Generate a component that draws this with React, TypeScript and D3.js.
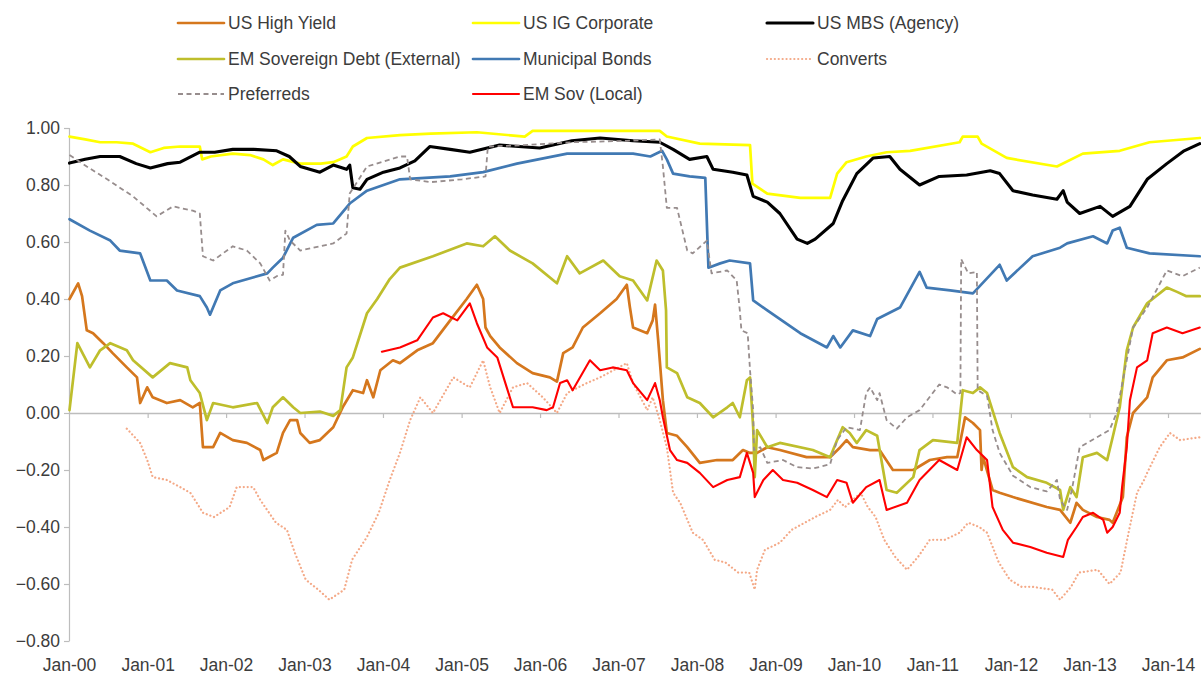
import React from "react";
import * as d3 from "d3";

// [years since Jan-2000, correlation]
const usHighYield: [number, number][] = [[0.00,0.40],[0.11,0.455],[0.16,0.41],[0.22,0.29],[0.30,0.28],[0.43,0.245],[0.55,0.21],[0.73,0.16],[0.86,0.125],[0.90,0.035],[0.99,0.09],[1.06,0.055],[1.24,0.035],[1.41,0.045],[1.57,0.02],[1.66,0.035],[1.70,-0.12],[1.83,-0.12],[1.92,-0.07],[2.08,-0.095],[2.26,-0.105],[2.43,-0.13],[2.47,-0.165],[2.64,-0.14],[2.72,-0.07],[2.81,-0.025],[2.90,-0.025],[2.94,-0.07],[3.06,-0.105],[3.19,-0.095],[3.36,-0.05],[3.48,0.02],[3.61,0.08],[3.74,0.07],[3.79,0.115],[3.87,0.055],[3.96,0.15],[4.12,0.185],[4.21,0.175],[4.43,0.22],[4.63,0.245],[4.85,0.325],[5.06,0.40],[5.19,0.45],[5.27,0.40],[5.30,0.30],[5.36,0.27],[5.48,0.23],[5.70,0.175],[5.90,0.14],[6.12,0.125],[6.21,0.11],[6.29,0.21],[6.41,0.23],[6.54,0.30],[6.76,0.35],[6.97,0.40],[7.10,0.45],[7.14,0.37],[7.18,0.30],[7.36,0.28],[7.43,0.325],[7.46,0.38],[7.50,0.255],[7.56,0.045],[7.61,-0.07],[7.74,-0.08],[7.87,-0.12],[8.03,-0.175],[8.25,-0.165],[8.45,-0.165],[8.58,-0.13],[8.67,-0.14],[8.76,-0.14],[8.89,-0.12],[9.05,-0.13],[9.39,-0.155],[9.69,-0.155],[9.82,-0.12],[9.90,-0.095],[9.98,-0.12],[10.20,-0.13],[10.32,-0.13],[10.49,-0.20],[10.75,-0.20],[10.96,-0.165],[11.18,-0.155],[11.31,-0.155],[11.41,-0.015],[11.51,-0.035],[11.60,-0.06],[11.62,-0.20],[11.64,-0.155],[11.76,-0.27],[11.85,-0.28],[12.02,-0.295],[12.45,-0.33],[12.62,-0.34],[12.75,-0.385],[12.83,-0.315],[12.91,-0.34],[13.09,-0.365],[13.25,-0.375],[13.29,-0.385],[13.42,-0.295],[13.47,-0.085],[13.55,0.0],[13.73,0.055],[13.80,0.125],[13.98,0.185],[14.18,0.195],[14.40,0.225]];

const usIGCorporate: [number, number][] = [[0.00,0.97],[0.20,0.96],[0.39,0.95],[0.60,0.95],[0.81,0.945],[1.03,0.915],[1.20,0.93],[1.41,0.935],[1.66,0.935],[1.69,0.89],[1.80,0.90],[2.08,0.91],[2.30,0.905],[2.47,0.89],[2.59,0.87],[2.72,0.89],[2.94,0.875],[3.20,0.875],[3.36,0.88],[3.53,0.90],[3.61,0.935],[3.79,0.965],[4.21,0.975],[4.60,0.98],[5.19,0.985],[5.80,0.97],[5.90,0.99],[6.50,0.99],[7.52,0.99],[7.61,0.97],[8.03,0.945],[8.67,0.94],[8.70,0.805],[8.89,0.77],[9.31,0.755],[9.69,0.755],[9.78,0.84],[9.90,0.88],[10.15,0.90],[10.41,0.915],[10.71,0.92],[11.34,0.95],[11.38,0.97],[11.57,0.97],[11.62,0.945],[11.94,0.895],[12.58,0.865],[12.91,0.91],[13.38,0.92],[13.76,0.95],[14.40,0.965]];

const usMBSAgency: [number, number][] = [[0.00,0.877],[0.20,0.89],[0.39,0.90],[0.64,0.90],[0.85,0.875],[1.03,0.86],[1.25,0.875],[1.41,0.88],[1.66,0.915],[1.85,0.915],[2.08,0.925],[2.35,0.925],[2.64,0.92],[2.80,0.90],[2.94,0.865],[3.19,0.845],[3.36,0.87],[3.53,0.855],[3.57,0.87],[3.61,0.79],[3.70,0.785],[3.79,0.82],[4.00,0.845],[4.21,0.86],[4.40,0.885],[4.59,0.935],[4.85,0.925],[5.10,0.915],[5.48,0.94],[5.99,0.93],[6.40,0.955],[6.76,0.965],[7.18,0.955],[7.52,0.95],[7.69,0.925],[7.90,0.89],[8.12,0.90],[8.20,0.855],[8.45,0.845],[8.63,0.835],[8.71,0.76],[8.89,0.74],[9.05,0.70],[9.27,0.61],[9.40,0.595],[9.50,0.61],[9.73,0.665],[9.85,0.745],[10.03,0.84],[10.24,0.895],[10.45,0.90],[10.58,0.855],[10.83,0.80],[11.08,0.83],[11.43,0.835],[11.73,0.85],[11.85,0.84],[12.02,0.78],[12.27,0.765],[12.58,0.75],[12.66,0.78],[12.71,0.74],[12.87,0.70],[13.13,0.725],[13.29,0.69],[13.51,0.725],[13.73,0.82],[13.98,0.875],[14.20,0.92],[14.40,0.945]];

const emSovExternal: [number, number][] = [[0.00,0.01],[0.10,0.245],[0.26,0.16],[0.39,0.22],[0.52,0.245],[0.73,0.22],[0.81,0.185],[1.06,0.125],[1.28,0.175],[1.50,0.16],[1.54,0.115],[1.66,0.07],[1.75,-0.025],[1.83,0.035],[2.08,0.02],[2.39,0.035],[2.52,-0.035],[2.59,0.02],[2.72,0.055],[2.85,0.02],[2.94,0.0],[3.19,0.005],[3.36,-0.01],[3.45,0.01],[3.53,0.16],[3.61,0.195],[3.79,0.35],[3.92,0.40],[4.08,0.47],[4.21,0.51],[4.63,0.55],[5.06,0.595],[5.27,0.585],[5.42,0.62],[5.61,0.57],[5.90,0.525],[6.21,0.455],[6.34,0.55],[6.50,0.49],[6.80,0.535],[7.01,0.48],[7.18,0.465],[7.36,0.395],[7.48,0.535],[7.56,0.50],[7.60,0.36],[7.61,0.16],[7.74,0.14],[7.87,0.055],[8.03,0.035],[8.20,-0.015],[8.38,0.02],[8.45,0.035],[8.54,-0.015],[8.63,0.115],[8.67,0.125],[8.71,-0.05],[8.73,-0.225],[8.76,-0.06],[8.89,-0.12],[9.05,-0.105],[9.47,-0.13],[9.69,-0.155],[9.78,-0.095],[9.85,-0.05],[9.94,-0.07],[10.03,-0.105],[10.15,-0.06],[10.29,-0.08],[10.41,-0.27],[10.54,-0.28],[10.75,-0.225],[10.83,-0.13],[11.00,-0.095],[11.31,-0.105],[11.38,0.08],[11.51,0.07],[11.60,0.09],[11.69,0.07],[11.85,-0.07],[12.02,-0.19],[12.20,-0.225],[12.45,-0.245],[12.62,-0.27],[12.66,-0.34],[12.75,-0.26],[12.83,-0.295],[12.91,-0.155],[13.09,-0.14],[13.22,-0.165],[13.29,-0.085],[13.38,0.02],[13.47,0.22],[13.55,0.30],[13.73,0.385],[13.98,0.44],[14.11,0.425],[14.23,0.41],[14.40,0.41]];

const municipalBonds: [number, number][] = [[0.00,0.68],[0.26,0.64],[0.52,0.605],[0.64,0.57],[0.90,0.56],[1.03,0.465],[1.24,0.465],[1.37,0.43],[1.66,0.41],[1.75,0.37],[1.79,0.345],[1.92,0.43],[2.08,0.455],[2.52,0.49],[2.59,0.51],[2.72,0.545],[2.85,0.615],[3.15,0.66],[3.36,0.665],[3.57,0.735],[3.79,0.78],[4.21,0.82],[4.85,0.83],[5.27,0.845],[5.70,0.875],[6.34,0.91],[6.76,0.91],[7.18,0.91],[7.40,0.90],[7.55,0.92],[7.61,0.89],[7.69,0.84],[7.90,0.83],[8.10,0.825],[8.14,0.51],[8.29,0.525],[8.41,0.535],[8.67,0.525],[8.71,0.395],[8.89,0.36],[9.31,0.28],[9.65,0.23],[9.73,0.27],[9.82,0.23],[9.98,0.29],[10.20,0.27],[10.29,0.33],[10.58,0.37],[10.83,0.495],[10.92,0.44],[11.22,0.43],[11.51,0.42],[11.85,0.52],[11.94,0.465],[12.27,0.55],[12.62,0.58],[12.71,0.595],[13.04,0.62],[13.22,0.595],[13.29,0.64],[13.38,0.65],[13.47,0.58],[13.76,0.56],[14.40,0.55]];

const converts: [number, number][] = [[0.73,-0.055],[0.90,-0.105],[0.99,-0.165],[1.06,-0.225],[1.24,-0.235],[1.41,-0.26],[1.54,-0.28],[1.70,-0.35],[1.84,-0.365],[2.04,-0.33],[2.13,-0.26],[2.34,-0.26],[2.43,-0.305],[2.63,-0.385],[2.77,-0.41],[2.87,-0.49],[3.01,-0.585],[3.17,-0.62],[3.31,-0.655],[3.50,-0.62],[3.60,-0.515],[3.79,-0.435],[3.94,-0.35],[4.08,-0.235],[4.21,-0.14],[4.34,-0.025],[4.47,0.055],[4.63,0.0],[4.89,0.125],[5.10,0.09],[5.27,0.185],[5.36,0.09],[5.48,0.0],[5.65,0.09],[5.83,0.105],[6.03,0.055],[6.21,0.0],[6.34,0.07],[6.59,0.105],[6.76,0.125],[7.10,0.175],[7.18,0.105],[7.36,0.01],[7.43,0.055],[7.52,-0.025],[7.61,-0.12],[7.69,-0.28],[7.78,-0.315],[7.94,-0.42],[8.07,-0.445],[8.22,-0.515],[8.36,-0.525],[8.52,-0.56],[8.66,-0.56],[8.73,-0.62],[8.76,-0.55],[8.86,-0.48],[9.05,-0.455],[9.20,-0.41],[9.50,-0.365],[9.69,-0.34],[9.79,-0.305],[9.88,-0.33],[10.08,-0.28],[10.17,-0.33],[10.27,-0.365],[10.38,-0.445],[10.52,-0.505],[10.67,-0.55],[10.81,-0.505],[10.96,-0.445],[11.15,-0.445],[11.34,-0.42],[11.45,-0.385],[11.59,-0.40],[11.69,-0.42],[11.84,-0.525],[11.98,-0.585],[12.13,-0.61],[12.27,-0.61],[12.52,-0.62],[12.62,-0.655],[12.76,-0.61],[12.86,-0.56],[13.10,-0.55],[13.25,-0.60],[13.39,-0.56],[13.50,-0.41],[13.60,-0.28],[13.69,-0.235],[13.73,-0.21],[13.89,-0.12],[14.02,-0.07],[14.15,-0.095],[14.40,-0.085]];

const preferreds: [number, number][] = [[0.00,0.905],[0.22,0.865],[0.48,0.82],[0.81,0.76],[1.11,0.69],[1.32,0.725],[1.57,0.71],[1.66,0.70],[1.70,0.55],[1.83,0.535],[2.08,0.585],[2.26,0.57],[2.43,0.525],[2.55,0.465],[2.64,0.48],[2.72,0.485],[2.75,0.64],[2.81,0.605],[2.94,0.57],[3.19,0.585],[3.36,0.595],[3.53,0.63],[3.57,0.77],[3.79,0.865],[4.21,0.90],[4.30,0.90],[4.34,0.82],[4.60,0.81],[5.00,0.82],[5.30,0.83],[5.33,0.935],[5.80,0.94],[6.40,0.95],[7.10,0.955],[7.52,0.96],[7.56,0.865],[7.61,0.72],[7.74,0.72],[7.87,0.57],[7.94,0.56],[8.12,0.605],[8.18,0.49],[8.38,0.50],[8.50,0.465],[8.54,0.36],[8.56,0.29],[8.64,0.28],[8.67,0.15],[8.71,0.01],[8.72,-0.13],[8.80,-0.12],[8.89,-0.175],[9.09,-0.165],[9.27,-0.19],[9.47,-0.195],[9.69,-0.18],[9.78,-0.095],[9.90,-0.05],[10.07,-0.06],[10.15,0.07],[10.20,0.09],[10.29,0.045],[10.32,0.07],[10.41,-0.025],[10.54,-0.055],[10.67,-0.015],[10.83,0.01],[11.08,0.10],[11.18,0.09],[11.31,0.065],[11.35,0.07],[11.36,0.54],[11.45,0.49],[11.56,0.495],[11.57,0.08],[11.69,0.06],[11.76,-0.06],[11.85,-0.14],[12.02,-0.22],[12.24,-0.26],[12.45,-0.275],[12.58,-0.235],[12.62,-0.305],[12.71,-0.34],[12.77,-0.27],[12.87,-0.12],[13.09,-0.085],[13.25,-0.06],[13.34,0.0],[13.42,0.115],[13.55,0.30],[13.73,0.37],[13.98,0.50],[14.18,0.48],[14.40,0.51]];

const emSovLocal: [number, number][] = [[3.98,0.215],[4.21,0.23],[4.43,0.255],[4.63,0.335],[4.76,0.35],[4.94,0.325],[5.06,0.37],[5.10,0.385],[5.19,0.315],[5.32,0.23],[5.45,0.195],[5.57,0.09],[5.65,0.02],[5.90,0.02],[6.08,0.01],[6.16,0.02],[6.25,0.105],[6.34,0.115],[6.41,0.08],[6.63,0.185],[6.76,0.15],[6.92,0.16],[7.10,0.15],[7.18,0.105],[7.36,0.045],[7.46,0.105],[7.52,0.045],[7.56,-0.015],[7.65,-0.13],[7.74,-0.165],[7.87,-0.175],[8.03,-0.21],[8.20,-0.26],[8.38,-0.235],[8.54,-0.225],[8.63,-0.14],[8.71,-0.21],[8.73,-0.295],[8.84,-0.235],[8.96,-0.20],[9.09,-0.235],[9.27,-0.245],[9.47,-0.27],[9.65,-0.295],[9.78,-0.235],[9.90,-0.245],[9.98,-0.315],[10.15,-0.26],[10.32,-0.235],[10.41,-0.34],[10.67,-0.315],[10.83,-0.235],[11.08,-0.165],[11.31,-0.20],[11.43,-0.085],[11.56,-0.13],[11.69,-0.165],[11.76,-0.33],[11.89,-0.41],[12.02,-0.455],[12.24,-0.47],[12.45,-0.49],[12.66,-0.505],[12.72,-0.445],[12.83,-0.40],[12.91,-0.365],[13.04,-0.35],[13.17,-0.375],[13.22,-0.42],[13.29,-0.40],[13.38,-0.35],[13.41,-0.26],[13.47,-0.12],[13.51,0.045],[13.60,0.16],[13.73,0.185],[13.80,0.28],[13.98,0.30],[14.18,0.28],[14.40,0.30]];

const seriesNames = [
  "US High Yield", "US IG Corporate", "US MBS (Agency)",
  "EM Sovereign Debt (External)", "Municipal Bonds", "Converts",
  "Preferreds", "EM Sov (Local)",
];
const seriesData = [usHighYield, usIGCorporate, usMBSAgency, emSovExternal, municipalBonds, converts, preferreds, emSovLocal];
const seriesStyle = [
  { color: "#D5771D", width: 2.7, dash: "", cap: "round" },
  { color: "#FFFF00", width: 2.7, dash: "", cap: "round" },
  { color: "#000000", width: 3.1, dash: "", cap: "round" },
  { color: "#BEBE2C", width: 2.7, dash: "", cap: "round" },
  { color: "#4179B3", width: 2.7, dash: "", cap: "round" },
  { color: "#F4A987", width: 2.2, dash: "0.1,3.8", cap: "round" },
  { color: "#978D8D", width: 1.8, dash: "5,3.5", cap: "butt" },
  { color: "#FF0000", width: 2.1, dash: "", cap: "round" },
];

const yTicks = [1.0, 0.8, 0.6, 0.4, 0.2, 0.0, -0.2, -0.4, -0.6, -0.8];
const xTickYears = d3.range(2000, 2015);

const W = 1201, H = 677;
const toDate = (t: number) => new Date(Date.UTC(2000, 0, 1) + t * 365.25 * 864e5);

export default function App() {
  const x = d3.scaleUtc()
    .domain([new Date(Date.UTC(2000, 0, 1)), new Date(Date.UTC(2014, 0, 1))])
    .range([69.5, 1168.5]);
  const y = d3.scaleLinear().domain([-0.8, 1.0]).range([641, 128]);
  const line = d3.line<[number, number]>()
    .x((d) => x(toDate(d[0])))
    .y((d) => y(d[1]));
  const font = "'Liberation Sans', Arial, sans-serif";
  const textColor = "#3c3c3c";
  const axisColor = "#BDBDBD";
  const legendCols = [178, 473, 767];
  const legendRows = [23, 59, 94];

  return (
    <svg width={W} height={H} style={{ position: "absolute", left: 0, top: 0, background: "#fff" }} fontFamily={font}>
      <rect x={0} y={0} width={W} height={H} fill="#fff" />
      {/* y axis */}
      <line x1={69.5} x2={69.5} y1={y(1.0)} y2={y(-0.8)} stroke={axisColor} strokeWidth={1.2} />
      {yTicks.map((v) => (
        <g key={v}>
          <line x1={64} x2={69.5} y1={Math.round(y(v)) + 0.5} y2={Math.round(y(v)) + 0.5} stroke={axisColor} strokeWidth={1.2} />
          <text x={60} y={y(v)} dy="0.35em" textAnchor="end" fontSize={17.5} fill={textColor}>
            {d3.format(".2f")(v)}
          </text>
        </g>
      ))}
      {/* zero / x axis */}
      <line x1={69.5} x2={W} y1={Math.round(y(0)) + 0.5} y2={Math.round(y(0)) + 0.5} stroke={axisColor} strokeWidth={1.4} />
      {xTickYears.map((yr) => {
        const px = x(new Date(Date.UTC(yr, 0, 1)));
        return (
          <g key={yr}>
            {yr > 2000 && <line x1={px} x2={px} y1={y(0)} y2={y(0) + 5} stroke={axisColor} strokeWidth={1.2} />}
            <text x={px} y={665} dy="0.35em" textAnchor="middle" fontSize={17.5} fill={textColor}>
              {d3.utcFormat("%b-%y")(new Date(Date.UTC(yr, 0, 1)))}
            </text>
          </g>
        );
      })}
      {/* series */}
      {seriesData.map((d, i) => (
        <path key={seriesNames[i]} d={line(d) || ""} fill="none" stroke={seriesStyle[i].color}
          strokeWidth={seriesStyle[i].width} strokeDasharray={seriesStyle[i].dash || undefined}
          strokeLinejoin="round" strokeLinecap={seriesStyle[i].cap as any} />
      ))}
      {/* legend */}
      {seriesNames.map((name, i) => {
        const cx = legendCols[i % 3];
        const cy = legendRows[Math.floor(i / 3)];
        return (
          <g key={name}>
            <line x1={cx} x2={cx + 46} y1={cy} y2={cy} stroke={seriesStyle[i].color}
              strokeWidth={seriesStyle[i].width} strokeDasharray={seriesStyle[i].dash || undefined}
              strokeLinecap={seriesStyle[i].cap as any} />
            <text x={cx + 50} y={cy} dy="0.35em" fontSize={17.5} fill={textColor}>{name}</text>
          </g>
        );
      })}
    </svg>
  );
}
